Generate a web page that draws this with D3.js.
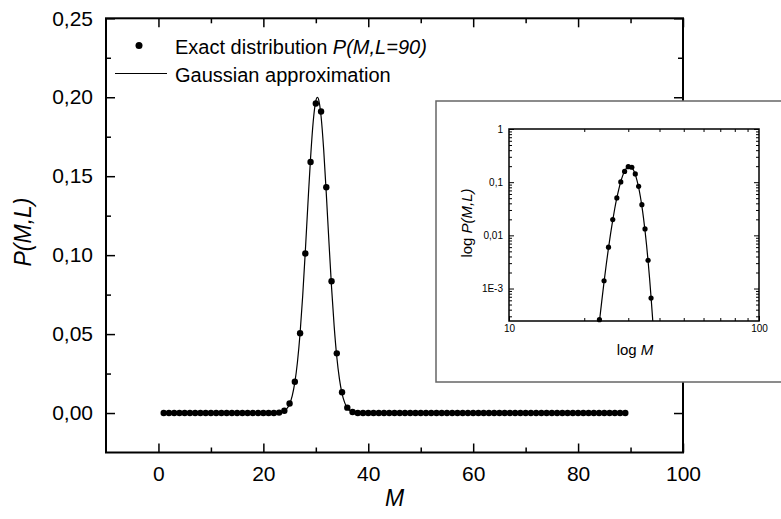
<!DOCTYPE html>
<html>
<head>
<meta charset="utf-8">
<script src="https://cdn.jsdelivr.net/npm/d3@7"></script>
<style>
  body { margin: 0; background: #fff; }
  svg { font-family: "Liberation Sans", Arial, sans-serif; }
</style>
</head>
<body>
<div id="chart"></div>
<script>
// chart data
var exactM = d3.range(1, 90);
var exactP = [
  0, 0, 0, 0, 0, 0, 0, 0, 0, 0, 0,
  0, 0, 0, 0, 0, 0, 0, 0, 0, 0, 0,
  0.00026, 0.0014, 0.0060, 0.0198, 0.0505, 0.101, 0.159, 0.196, 0.191, 0.143,
  0.0835, 0.0378, 0.0132, 0.0034, 0.00066,
  0, 0, 0, 0, 0, 0, 0, 0, 0, 0, 0, 0, 0,
  0, 0, 0, 0, 0, 0, 0, 0, 0, 0, 0, 0, 0,
  0, 0, 0, 0, 0, 0, 0, 0, 0, 0, 0, 0, 0,
  0, 0, 0, 0, 0, 0, 0, 0, 0, 0, 0, 0, 0
];

var gaussM = [1, 22, 22.5, 23, 23.5, 24, 24.5, 25, 25.5, 26, 26.5, 27, 27.5, 28, 28.5, 29, 29.5,
  30, 30.3, 30.5, 31, 31.5, 32, 32.5, 33, 33.5, 34, 34.5, 35, 35.5, 36, 36.5, 37, 37.5, 38, 89];
var gaussP = [0, 0.000033, 0.000092, 0.00024, 0.00058, 0.00133, 0.00286, 0.00576, 0.0109, 0.0194,
  0.0323, 0.0505, 0.0743, 0.1026, 0.1329, 0.1616, 0.1845, 0.1977, 0.2000, 0.1990, 0.188, 0.1668,
  0.1388, 0.1085, 0.0796, 0.0549, 0.0355, 0.0216, 0.0123, 0.00658, 0.0033, 0.00156, 0.00069,
  0.00029, 0.00011, 0];

var xMajor = [0, 20, 40, 60, 80, 100];
var xMinor = [10, 30, 50, 70, 90];
var yMajor = [0, 0.05, 0.10, 0.15, 0.20, 0.25];
var yMinor = [0.025, 0.075, 0.125, 0.175, 0.225];

var insetXMajor = [10, 100];
var insetXMinor = [20, 30, 40, 50, 60, 70, 80, 90];
var insetYMajor = [1, 0.1, 0.01, 0.001];
var insetYLabels = ["1", "0,1", "0,01", "1E-3"];
var insetYMinor = [0.0003, 0.0004, 0.0005, 0.0006, 0.0007, 0.0008, 0.0009,
  0.002, 0.003, 0.004, 0.005, 0.006, 0.007, 0.008, 0.009,
  0.02, 0.03, 0.04, 0.05, 0.06, 0.07, 0.08, 0.09,
  0.2, 0.3, 0.4, 0.5, 0.6, 0.7, 0.8, 0.9];

var svgWidth = 781;
var svgHeight = 519;

var margin = { top: 18.3, right: 98, bottom: 66.5, left: 106 };
var width = svgWidth - margin.left - margin.right;
var height = svgHeight - margin.top - margin.bottom;

var comma = d3.formatLocale({ decimal: ",", thousands: ".", grouping: [3], currency: ["", ""] });
var fmt2 = comma.format(".2f");

var svg = d3.select("#chart")
  .append("svg")
  .attr("width", svgWidth)
  .attr("height", svgHeight);

var chartGroup = svg.append("g")
  .attr("transform", `translate(${margin.left}, ${margin.top})`);

var x = d3.scaleLinear().domain([-10, 100]).range([0, width]);
var y = d3.scaleLinear().domain([-0.025, 0.25]).range([height, 0]);

// axes: ticks point inward on all four sides
function tickStyle(g) {
  g.select(".domain").remove();
  g.selectAll(".tick line").attr("stroke", "#000").attr("stroke-width", 1.5);
  g.selectAll(".tick text").attr("fill", "#000");
}

chartGroup.append("g")
  .attr("transform", `translate(0, ${height})`)
  .call(d3.axisBottom(x).tickValues(xMajor).tickSize(-9).tickPadding(14).tickFormat(d3.format("d")))
  .call(tickStyle)
  .attr("font-size", 21);
chartGroup.append("g")
  .attr("transform", `translate(0, ${height})`)
  .call(d3.axisBottom(x).tickValues(xMinor).tickSize(-5).tickFormat(""))
  .call(tickStyle);
chartGroup.append("g")
  .call(d3.axisTop(x).tickValues(xMajor).tickSize(-9).tickFormat(""))
  .call(tickStyle);
chartGroup.append("g")
  .call(d3.axisTop(x).tickValues(xMinor).tickSize(-5).tickFormat(""))
  .call(tickStyle);

chartGroup.append("g")
  .call(d3.axisLeft(y).tickValues(yMajor).tickSize(-9).tickPadding(13).tickFormat(fmt2))
  .call(tickStyle)
  .attr("font-size", 21);
chartGroup.append("g")
  .call(d3.axisLeft(y).tickValues(yMinor).tickSize(-5).tickFormat(""))
  .call(tickStyle);
chartGroup.append("g")
  .attr("transform", `translate(${width}, 0)`)
  .call(d3.axisRight(y).tickValues(yMajor).tickSize(-9).tickFormat(""))
  .call(tickStyle);
chartGroup.append("g")
  .attr("transform", `translate(${width}, 0)`)
  .call(d3.axisRight(y).tickValues(yMinor).tickSize(-5).tickFormat(""))
  .call(tickStyle);

chartGroup.append("rect")
  .attr("width", width)
  .attr("height", height)
  .attr("fill", "none")
  .attr("stroke", "#000")
  .attr("stroke-width", 2);

// gaussian line + exact points
var line = d3.line()
  .x((d, i) => x(gaussM[i]))
  .y(d => y(d))
  .curve(d3.curveMonotoneX);

chartGroup.append("path")
  .datum(gaussP)
  .attr("d", line)
  .attr("fill", "none")
  .attr("stroke", "#000")
  .attr("stroke-width", 1.2);

chartGroup.selectAll("circle.exact")
  .data(exactP)
  .enter()
  .append("circle")
  .attr("class", "exact")
  .attr("cx", (d, i) => x(exactM[i]))
  .attr("cy", d => y(d))
  .attr("r", 3.2)
  .attr("fill", "#000");

// axis titles
chartGroup.append("text")
  .attr("x", x(45))
  .attr("y", height + 54)
  .attr("text-anchor", "middle")
  .attr("font-size", 23)
  .attr("font-style", "italic")
  .text("M");

svg.append("text")
  .attr("transform", "rotate(-90)")
  .attr("x", -232)
  .attr("y", 31)
  .attr("text-anchor", "middle")
  .attr("font-size", 23)
  .attr("font-style", "italic")
  .text("P(M,L)");

// legend
svg.append("circle")
  .attr("cx", 139)
  .attr("cy", 45.5)
  .attr("r", 3.5)
  .attr("fill", "#000");
var leg1 = svg.append("text")
  .attr("x", 175)
  .attr("y", 53.5)
  .attr("font-size", 20);
leg1.append("tspan").text("Exact distribution ");
leg1.append("tspan").attr("font-style", "italic").text("P(M,L=90)");

svg.append("line")
  .attr("x1", 115).attr("x2", 167)
  .attr("y1", 73.5).attr("y2", 73.5)
  .attr("stroke", "#000")
  .attr("stroke-width", 1.2);
svg.append("text")
  .attr("x", 175)
  .attr("y", 82)
  .attr("font-size", 20)
  .text("Gaussian approximation");

// inset
svg.append("rect")
  .attr("x", 436)
  .attr("y", 101)
  .attr("width", 360)
  .attr("height", 281)
  .attr("fill", "#fff")
  .attr("stroke", "#666")
  .attr("stroke-width", 1.5);

var inset = { left: 509, top: 129, width: 250, height: 192 };
var insetGroup = svg.append("g")
  .attr("transform", `translate(${inset.left}, ${inset.top})`);

var xLog = d3.scaleLog().domain([10, 100]).range([0, inset.width]);
var yLog = d3.scaleLog().domain([0.000245, 1]).range([inset.height, 0]);

function smallTicks(g) {
  g.select(".domain").remove();
  g.selectAll(".tick line").attr("stroke", "#000").attr("stroke-width", 1);
  g.selectAll(".tick text").attr("fill", "#000");
}

insetGroup.append("g")
  .attr("transform", `translate(0, ${inset.height})`)
  .call(d3.axisBottom(xLog).tickValues(insetXMajor).tickSize(-5).tickPadding(4).tickFormat(d3.format("d")))
  .call(smallTicks)
  .attr("font-size", 10);
insetGroup.append("g")
  .attr("transform", `translate(0, ${inset.height})`)
  .call(d3.axisBottom(xLog).tickValues(insetXMinor).tickSize(-3).tickFormat(""))
  .call(smallTicks);
insetGroup.append("g")
  .call(d3.axisTop(xLog).tickValues(insetXMinor).tickSize(-3).tickFormat(""))
  .call(smallTicks);

insetGroup.append("g")
  .call(d3.axisLeft(yLog).tickValues(insetYMajor).tickSize(-5).tickPadding(6)
    .tickFormat((d, i) => insetYLabels[i]))
  .call(smallTicks)
  .attr("font-size", 10);
insetGroup.append("g")
  .call(d3.axisLeft(yLog).tickValues(insetYMinor).tickSize(-3).tickFormat(""))
  .call(smallTicks);
insetGroup.append("g")
  .attr("transform", `translate(${inset.width}, 0)`)
  .call(d3.axisRight(yLog).tickValues(insetYMajor).tickSize(-5).tickFormat(""))
  .call(smallTicks);
insetGroup.append("g")
  .attr("transform", `translate(${inset.width}, 0)`)
  .call(d3.axisRight(yLog).tickValues(insetYMinor).tickSize(-3).tickFormat(""))
  .call(smallTicks);

insetGroup.append("rect")
  .attr("width", inset.width)
  .attr("height", inset.height)
  .attr("fill", "none")
  .attr("stroke", "#000")
  .attr("stroke-width", 1.5);

insetGroup.append("clipPath")
  .attr("id", "insetClip")
  .append("rect")
  .attr("width", inset.width)
  .attr("height", inset.height);

var logLine = d3.line()
  .defined(d => d > 0)
  .x((d, i) => xLog(gaussM[i]))
  .y(d => yLog(d))
  .curve(d3.curveMonotoneX);

insetGroup.append("path")
  .datum(gaussP)
  .attr("clip-path", "url(#insetClip)")
  .attr("d", logLine)
  .attr("fill", "none")
  .attr("stroke", "#000")
  .attr("stroke-width", 1.2);

insetGroup.selectAll("circle")
  .data(exactP.map((p, i) => ({ m: exactM[i], p: p })).filter(d => d.p >= 0.000245))
  .enter()
  .append("circle")
  .attr("cx", d => xLog(d.m))
  .attr("cy", d => yLog(d.p))
  .attr("r", 2.6)
  .attr("fill", "#000");

var insetYTitle = svg.append("text")
  .attr("transform", "rotate(-90)")
  .attr("x", -223)
  .attr("y", 472)
  .attr("text-anchor", "middle")
  .attr("font-size", 15);
insetYTitle.append("tspan").text("log ");
insetYTitle.append("tspan").attr("font-style", "italic").text("P(M,L)");

var insetXTitle = svg.append("text")
  .attr("x", 635)
  .attr("y", 355)
  .attr("text-anchor", "middle")
  .attr("font-size", 15);
insetXTitle.append("tspan").text("log ");
insetXTitle.append("tspan").attr("font-style", "italic").text("M");
</script>
</body>
</html>
